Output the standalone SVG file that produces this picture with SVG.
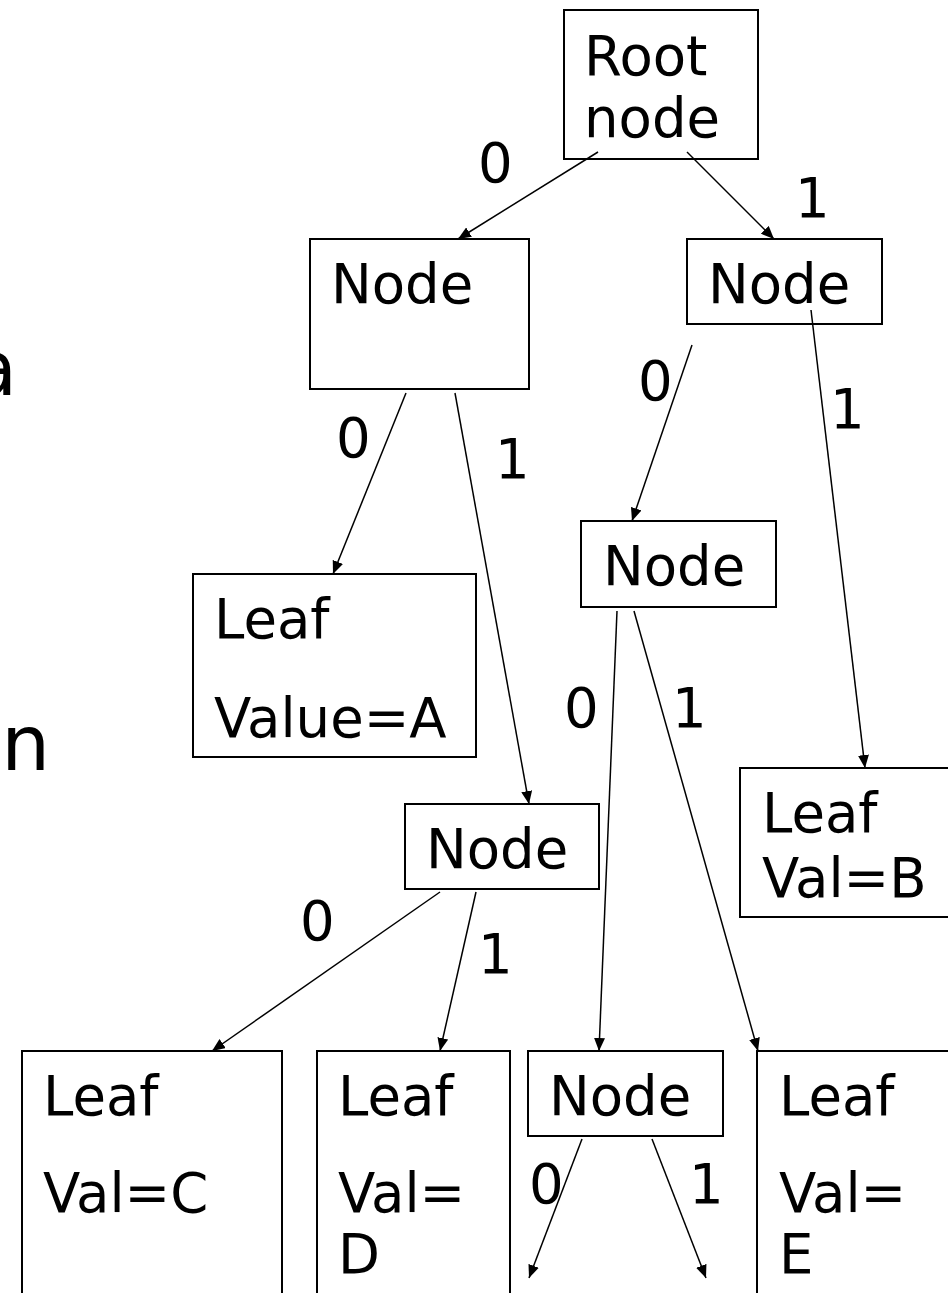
<svg xmlns="http://www.w3.org/2000/svg" width="948" height="1293" viewBox="0 0 948 1293">
<style>
.box{fill:#fff;stroke:#000;stroke-width:2}
.t{font-family:"DejaVu Sans",sans-serif;font-size:54.5px;fill:#000}
.big{font-family:"DejaVu Sans",sans-serif;font-size:77px;fill:#000}
.c{stroke:#000;stroke-width:1.5;fill:none;marker-end:url(#ah)}
</style>
<defs>
<marker id="ah" markerUnits="userSpaceOnUse" markerWidth="13" markerHeight="11" refX="13" refY="5.5" orient="auto">
<path d="M0,0 L13,5.5 L0,11 z" fill="#000"/>
</marker>
</defs>
<rect width="948" height="1293" fill="#fff"/>
<text class="big" x="-30" y="395">a</text>
<text class="big" x="-46" y="770">an</text>
<g id="root"><rect class="box" x="564" y="10" width="194" height="149"/><text class="t" x="584" y="75">Root</text><text class="t" x="584" y="137">node</text></g>
<g id="nodeL1"><rect class="box" x="310" y="239" width="219" height="150"/><text class="t" x="331" y="303">Node</text></g>
<g id="nodeR1"><rect class="box" x="687" y="239" width="195" height="85"/><text class="t" x="708" y="303">Node</text></g>
<g id="nodeMid"><rect class="box" x="581" y="521" width="195" height="86"/><text class="t" x="603" y="585">Node</text></g>
<g id="leafA"><rect class="box" x="193" y="574" width="283" height="183"/><text class="t" x="214" y="638">Leaf</text><text class="t" x="214" y="737">Value=A</text></g>
<g id="nodeL2"><rect class="box" x="405" y="804" width="194" height="85"/><text class="t" x="426" y="868">Node</text></g>
<g id="leafB"><rect class="box" x="740" y="768" width="220" height="149"/><text class="t" x="762" y="832">Leaf</text><text class="t" x="762" y="897">Val=B</text></g>
<g id="leafC"><rect class="box" x="22" y="1051" width="260" height="260"/><text class="t" x="43" y="1115">Leaf</text><text class="t" x="43" y="1212">Val=C</text></g>
<g id="leafD"><rect class="box" x="317" y="1051" width="193" height="260"/><text class="t" x="338" y="1115">Leaf</text><text class="t" x="338" y="1212">Val=</text><text class="t" x="338" y="1273">D</text></g>
<g id="nodeBottom"><rect class="box" x="528" y="1051" width="195" height="85"/><text class="t" x="549" y="1115">Node</text></g>
<g id="leafE"><rect class="box" x="757" y="1051" width="220" height="260"/><text class="t" x="779" y="1115">Leaf</text><text class="t" x="779" y="1212">Val=</text><text class="t" x="779" y="1273">E</text></g>
<g id="connectors">
<line class="c" x1="598" y1="152" x2="458" y2="239"/>
<line class="c" x1="687" y1="152" x2="774" y2="239"/>
<line class="c" x1="406" y1="393" x2="333" y2="574"/>
<line class="c" x1="455" y1="393" x2="529" y2="804"/>
<line class="c" x1="692" y1="345" x2="632" y2="521"/>
<line class="c" x1="811" y1="310" x2="865" y2="768"/>
<line class="c" x1="617" y1="611" x2="599" y2="1051"/>
<line class="c" x1="634" y1="611" x2="758" y2="1051"/>
<line class="c" x1="440" y1="892" x2="212" y2="1051"/>
<line class="c" x1="476" y1="892" x2="440" y2="1051"/>
<line class="c" x1="582" y1="1139" x2="529" y2="1278"/>
<line class="c" x1="652" y1="1139" x2="706" y2="1278"/>
<text class="t" x="478" y="182">0</text>
<text class="t" x="795" y="217">1</text>
<text class="t" x="336" y="457">0</text>
<text class="t" x="495" y="478">1</text>
<text class="t" x="638" y="400">0</text>
<text class="t" x="830" y="428">1</text>
<text class="t" x="564" y="727">0</text>
<text class="t" x="672" y="727">1</text>
<text class="t" x="300" y="940">0</text>
<text class="t" x="478" y="973">1</text>
<text class="t" x="529" y="1203">0</text>
<text class="t" x="689" y="1203">1</text>
</g>
</svg>
